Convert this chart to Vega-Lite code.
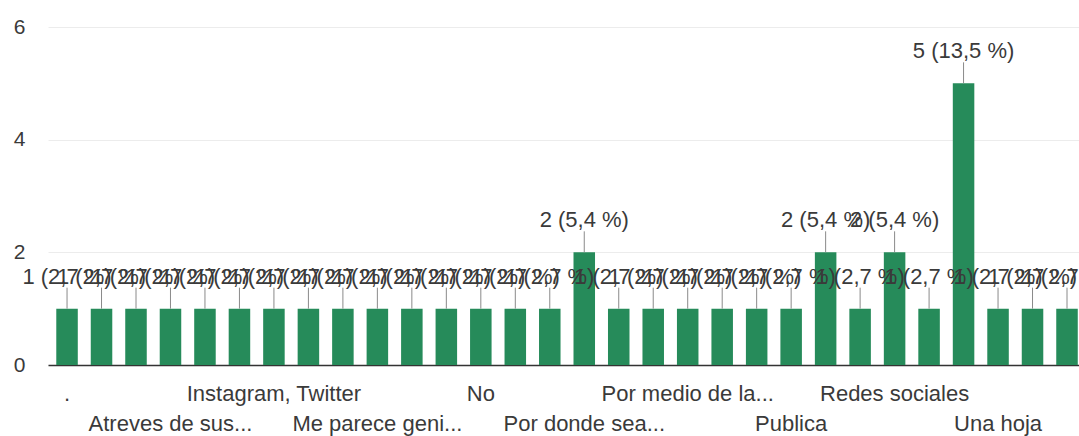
{
  "$schema": "https://vega.github.io/schema/vega-lite/v6.json",
  "autosize": {"type": "none"},
  "width": 1031,
  "height": 338,
  "padding": {"left": 48, "top": 27, "right": 0, "bottom": 71},
  "background": "white",
  "config": {
    "view": {"stroke": null},
    "font": "Liberation Sans"
  },
  "data": {
    "values": [
      {"respuesta": ".", "n": 1, "etiqueta": "1 (2,7 %)"},
      {"respuesta": "A través de anuncios", "n": 1, "etiqueta": "1 (2,7 %)"},
      {"respuesta": "Anuncios en la radio", "n": 1, "etiqueta": "1 (2,7 %)"},
      {"respuesta": "Atreves de sus...", "n": 1, "etiqueta": "1 (2,7 %)"},
      {"respuesta": "Carteles", "n": 1, "etiqueta": "1 (2,7 %)"},
      {"respuesta": "Facebook", "n": 1, "etiqueta": "1 (2,7 %)"},
      {"respuesta": "Instagram, Twitter", "n": 1, "etiqueta": "1 (2,7 %)"},
      {"respuesta": "Internet", "n": 1, "etiqueta": "1 (2,7 %)"},
      {"respuesta": "Me gusta", "n": 1, "etiqueta": "1 (2,7 %)"},
      {"respuesta": "Me parece geni...", "n": 1, "etiqueta": "1 (2,7 %)"},
      {"respuesta": "Mediante folletos", "n": 1, "etiqueta": "1 (2,7 %)"},
      {"respuesta": "Muy bien", "n": 1, "etiqueta": "1 (2,7 %)"},
      {"respuesta": "No", "n": 1, "etiqueta": "1 (2,7 %)"},
      {"respuesta": "No sé", "n": 1, "etiqueta": "1 (2,7 %)"},
      {"respuesta": "Por correo", "n": 1, "etiqueta": "1 (2,7 %)"},
      {"respuesta": "Por donde sea...", "n": 2, "etiqueta": "2 (5,4 %)"},
      {"respuesta": "Por la radio", "n": 1, "etiqueta": "1 (2,7 %)"},
      {"respuesta": "Por la televisión", "n": 1, "etiqueta": "1 (2,7 %)"},
      {"respuesta": "Por medio de la...", "n": 1, "etiqueta": "1 (2,7 %)"},
      {"respuesta": "Por redes", "n": 1, "etiqueta": "1 (2,7 %)"},
      {"respuesta": "Por televisión", "n": 1, "etiqueta": "1 (2,7 %)"},
      {"respuesta": "Publica", "n": 1, "etiqueta": "1 (2,7 %)"},
      {"respuesta": "Publicidad", "n": 2, "etiqueta": "2 (5,4 %)"},
      {"respuesta": "Radio", "n": 1, "etiqueta": "1 (2,7 %)"},
      {"respuesta": "Redes sociales", "n": 2, "etiqueta": "2 (5,4 %)"},
      {"respuesta": "Sí", "n": 1, "etiqueta": "1 (2,7 %)"},
      {"respuesta": "Televisión", "n": 5, "etiqueta": "5 (13,5 %)"},
      {"respuesta": "Una hoja", "n": 1, "etiqueta": "1 (2,7 %)"},
      {"respuesta": "Volantes", "n": 1, "etiqueta": "1 (2,7 %)"},
      {"respuesta": "WhatsApp", "n": 1, "etiqueta": "1 (2,7 %)"}
    ]
  },
  "encoding": {
    "x": {
      "field": "respuesta",
      "type": "nominal",
      "sort": null,
      "scale": {"paddingInner": 0.376, "paddingOuter": 0.138, "align": 0.87},
      "axis": {
        "title": null,
        "ticks": false,
        "domainColor": "#333333",
        "domainWidth": 1.5,
        "labelAngle": 0,
        "labelFontSize": 22,
        "labelColor": "#3a3a3a",
        "labelPadding": 18,
        "labelLineHeight": 30,
        "labelOverlap": false,
        "labelLimit": 400,
        "labelExpr": "round(datum.index * 29) % 3 != 0 ? '' : (round(datum.index * 29) % 6 == 0 ? datum.label : ['', datum.label])"
      }
    },
    "y": {
      "field": "n",
      "type": "quantitative",
      "scale": {"domain": [0, 6], "nice": false},
      "axis": {
        "title": null,
        "values": [0, 2, 4, 6],
        "ticks": false,
        "domain": false,
        "grid": true,
        "gridColor": "#ececec",
        "labelFontSize": 21,
        "labelColor": "#3a3a3a",
        "labelPadding": 23
      }
    }
  },
  "layer": [
    {"mark": {"type": "bar", "color": "#268b5a"}},
    {
      "mark": {"type": "rule", "color": "#8a8a8a", "strokeWidth": 1, "y2Offset": -21},
      "encoding": {"y2": {"field": "n"}}
    },
    {
      "mark": {"type": "text", "dy": -32, "baseline": "middle", "fontSize": 22, "color": "#3a3a3a"},
      "encoding": {"text": {"field": "etiqueta"}}
    }
  ]
}
